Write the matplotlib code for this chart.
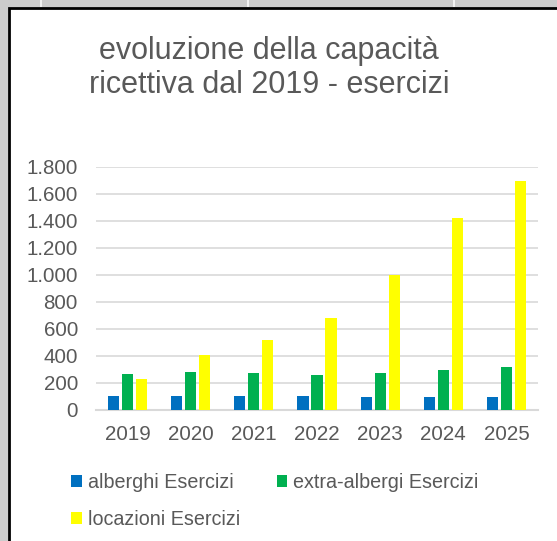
import matplotlib.pyplot as plt
from matplotlib.patches import Rectangle
from matplotlib.ticker import FuncFormatter
import numpy as np

plt.rcParams["font.family"] = ["Liberation Sans", "DejaVu Sans"]

# dati
anni = ["2019", "2020", "2021", "2022", "2023", "2024", "2025"]
alberghi = [104, 104, 101, 99, 94, 94, 94]
extra_alberghi = [267, 279, 270, 257, 270, 294, 314]
locazioni = [225, 405, 516, 681, 998, 1422, 1694]

serie = ["alberghi Esercizi", "extra-albergi Esercizi", "locazioni Esercizi"]
colori = ["#0070C0", "#00B050", "#FFFF00"]
grigio = "#595959"

W, H = 557, 541
fig = plt.figure(figsize=(W / 100, H / 100), dpi=100, facecolor="#cccccc")

# sfondo tipo foglio Excel: separatori colonne e bordo del grafico
for xs in [40, 247, 453]:
    fig.patches.append(Rectangle((xs / W, 1 - 7 / H), 2 / W, 7 / H,
                                 transform=fig.transFigure, color="#f2f2f2", lw=0,
                                 zorder=-2))
fig.patches.append(Rectangle((9 / W, -0.01), 1, 1 - 8 / H + 0.01,
                             transform=fig.transFigure, facecolor="white",
                             edgecolor="black", lw=2, zorder=-1))

ax = fig.add_axes([96 / W, 1 - 409.7 / H, (538 - 96) / W, (409.7 - 166.7) / H])
ax.set_facecolor("none")
ax.set_zorder(2)

x = np.arange(len(anni))
larg = 0.175
passo = 0.222
for i, (vals, nome, col) in enumerate(zip([alberghi, extra_alberghi, locazioni], serie, colori)):
    ax.bar(x + (i - 1) * passo, vals, width=larg, color=col, label=nome, zorder=3)

ax.set_ylim(0, 1800)
ax.set_xlim(-0.5, len(anni) - 0.5)
ax.set_yticks(range(0, 1801, 200))
ax.yaxis.set_major_formatter(FuncFormatter(lambda v, p: f"{int(v):,}".replace(",", ".")))
ax.set_xticks(x)
ax.set_xticklabels(anni)
ax.grid(axis="y", color="#d9d9d9", lw=1.2, zorder=0)
for s in ["top", "right", "left"]:
    ax.spines[s].set_visible(False)
ax.spines["bottom"].set_color("#d9d9d9")
ax.spines["bottom"].set_linewidth(1.5)
ax.tick_params(axis="both", length=0, labelsize=14.8, colors=grigio)
ax.tick_params(axis="y", pad=13)
ax.tick_params(axis="x", pad=11)

fig.text(269 / W, 1 - 68 / H, "evoluzione della capacità\nricettiva dal 2019 - esercizi",
         ha="center", va="center", fontsize=22, color=grigio, linespacing=1.2)

h, l = ax.get_legend_handles_labels()
ordine = [0, 2, 1]
fig.legend([h[i] for i in ordine], [l[i] for i in ordine], ncol=2,
           loc="upper left", bbox_to_anchor=(71 / W, 1 - 473 / H),
           frameon=False, fontsize=14.2, labelcolor=grigio,
           handlelength=0.55, handleheight=0.55, handletextpad=0.3,
           columnspacing=1.85, labelspacing=0.9, borderpad=0, borderaxespad=0)

fig.savefig("out.png", dpi=100, facecolor=fig.get_facecolor())
